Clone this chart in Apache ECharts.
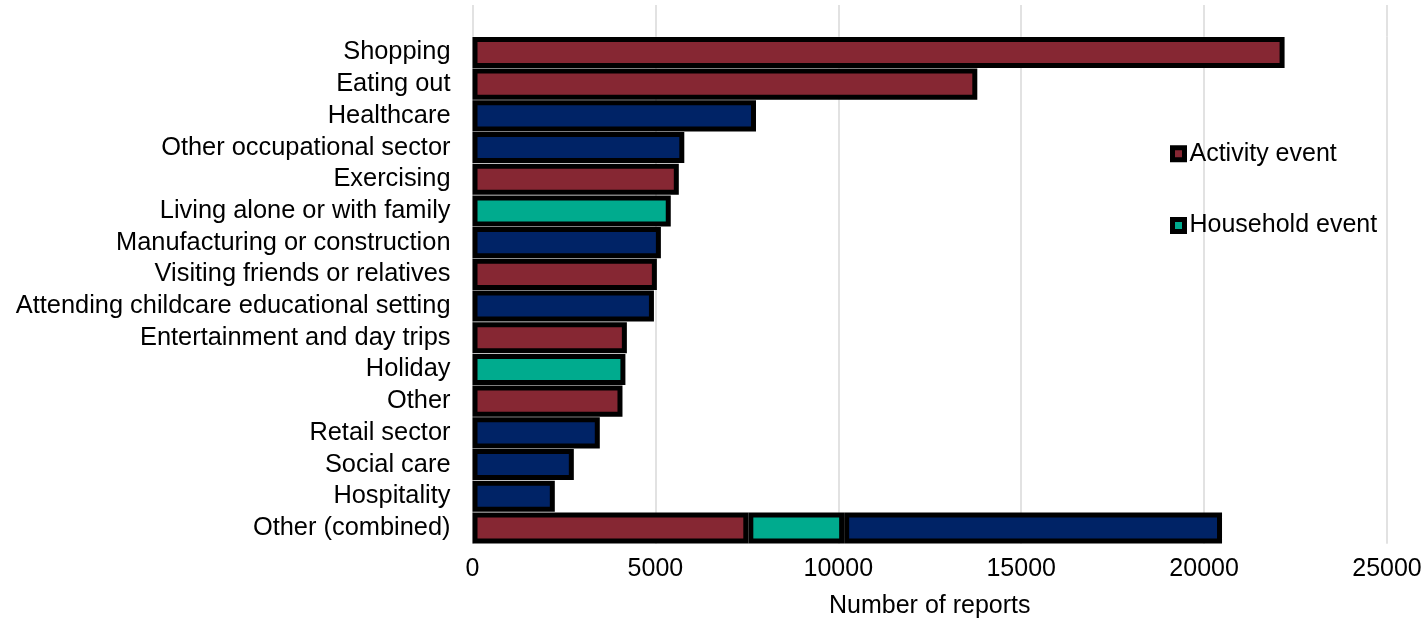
<!DOCTYPE html>
<html>
<head>
<meta charset="utf-8">
<script src="https://cdn.jsdelivr.net/npm/echarts@6/dist/echarts.min.js"></script>
<style>
html,body{margin:0;padding:0;background:#fff;}
#chart{width:1427px;height:619px;}
</style>
</head>
<body>
<div id="chart"></div>
<script>
const categories = ['Shopping','Eating out','Healthcare','Other occupational sector','Exercising','Living alone or with family','Manufacturing or construction','Visiting friends or relatives','Attending childcare educational setting','Entertainment and day trips','Holiday','Other','Retail sector','Social care','Hospitality','Other (combined)'];
const activityEvent  = [22200, 13800, null, null, 5640, null, null, 5040, null, 4220, null, 4100, null, null, null, 7540];
const householdEvent = [null, null, null, null, null, 5420, null, null, null, null, 4180, null, null, null, null, 2620];
const workplaceEvent = [null, null, 7750, 5790, null, null, 5150, null, 4960, null, null, null, 3480, 2770, 2250, 10330];
const xTicks = [0, 5000, 10000, 15000, 20000, 25000];

const FONT = 'Liberation Sans, Arial, sans-serif';
const chart = echarts.init(document.getElementById('chart'), null, {renderer:'canvas'});

function barSeries(name, data, color){
  return {
    name: name, type: 'bar', stack: 'total', data: data,
    xAxisIndex: 0, yAxisIndex: 0,
    barCategoryGap: '2%',
    itemStyle: {color: color, borderColor: '#000', borderWidth: 5},
    emphasis: {disabled: true}
  };
}

chart.setOption({
  animation: false,
  textStyle: {fontFamily: FONT},
  grid: [
    {left: 472.5, right: 40, top: 36.6, bottom: 75.2, containLabel: false, outerBoundsMode: 'none'},
    {left: 472.5, right: 40, top: 5, height: 31.6, containLabel: false, outerBoundsMode: 'none'}
  ],
  legend: {
    data: ['Activity event', 'Household event'],
    orient: 'vertical',
    left: 1170, top: 141.3, padding: 0,
    itemWidth: 12, itemHeight: 12, itemGap: 46.7,
    icon: 'rect',
    itemStyle: {borderColor: '#000', borderWidth: 5},
    textStyle: {fontFamily: FONT, fontSize: 25, color: '#000', lineHeight: 25},
    selectedMode: false
  },
  xAxis: [
    {
      type: 'value', gridIndex: 0, min: xTicks[0], max: xTicks[xTicks.length-1], interval: 5000,
      axisLine: {show: false}, axisTick: {show: false},
      axisLabel: {fontFamily: FONT, fontSize: 25, color: '#000', margin: 13, formatter: function(v){ return String(v); }},
      splitLine: {show: true, lineStyle: {color: '#d9d9d9', width: 1.5}},
      name: 'Number of reports', nameLocation: 'middle', nameGap: 50,
      nameTextStyle: {fontFamily: FONT, fontSize: 25, color: '#000'}
    },
    {
      type: 'value', gridIndex: 1, min: xTicks[0], max: xTicks[xTicks.length-1], interval: 5000,
      axisLine: {show: false}, axisTick: {show: false}, axisLabel: {show: false},
      splitLine: {show: true, lineStyle: {color: '#d9d9d9', width: 1.5}}
    }
  ],
  yAxis: [
    {
      type: 'category', gridIndex: 0, data: categories, inverse: true,
      axisLine: {show: false}, axisTick: {show: false},
      axisLabel: {fontFamily: FONT, fontSize: 25.4, color: '#000', margin: 22, interval: 0}
    },
    {
      type: 'category', gridIndex: 1, data: [''],
      axisLine: {show: false}, axisTick: {show: false}, axisLabel: {show: false}
    }
  ],
  series: [
    barSeries('Activity event', activityEvent, '#862733'),
    barSeries('Household event', householdEvent, '#00AB8E'),
    barSeries('Workplace event', workplaceEvent, '#002366')
  ]
});
</script>
</body>
</html>
